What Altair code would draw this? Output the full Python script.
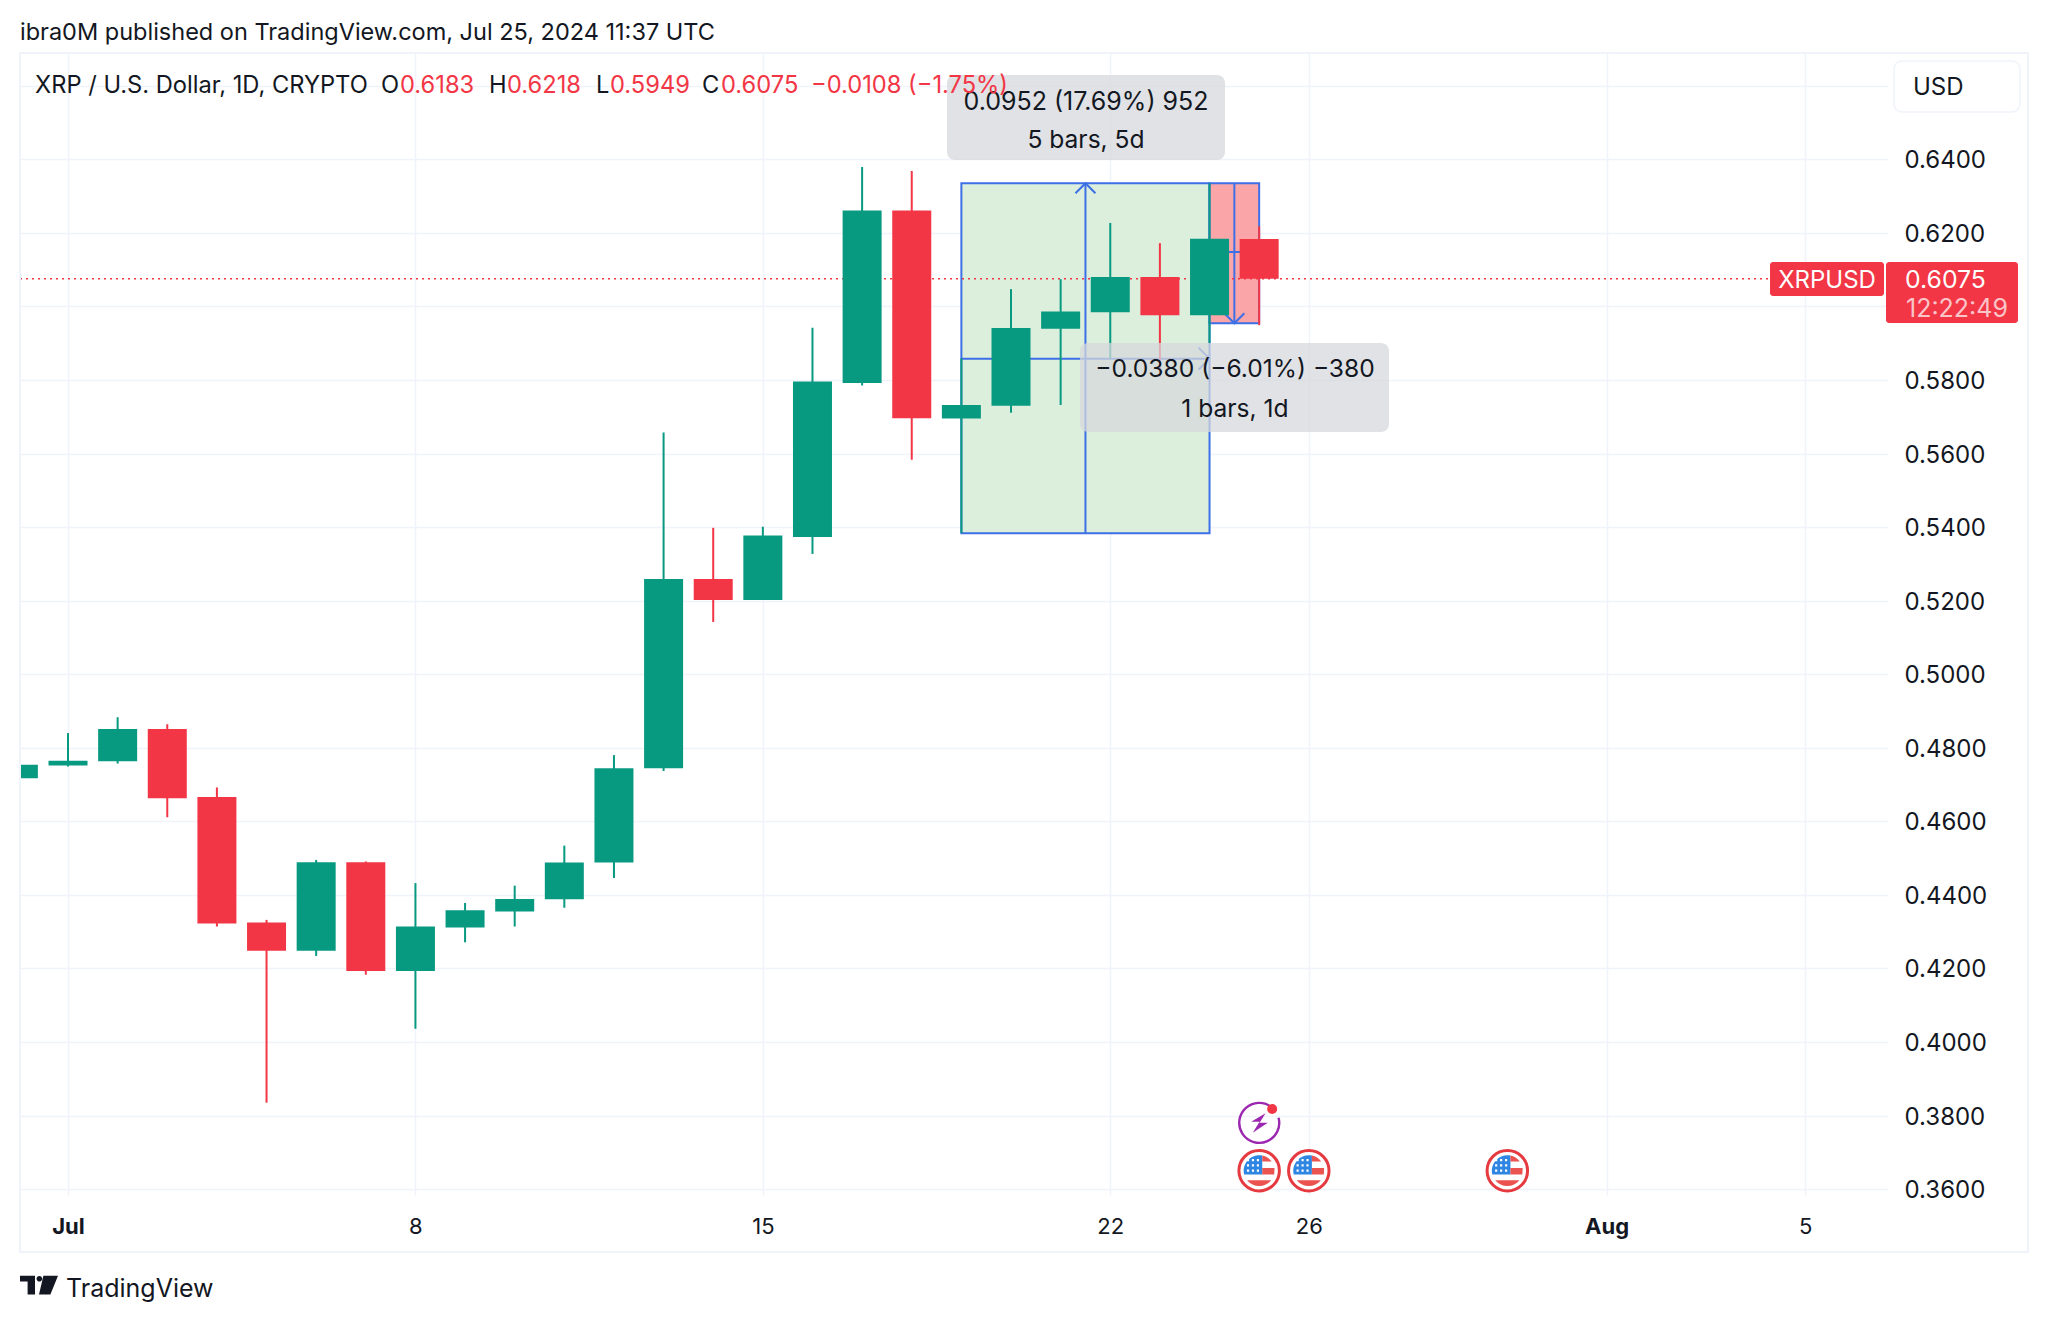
import altair as alt

# ---- data ----
dates = ["2024-06-30","2024-07-01","2024-07-02","2024-07-03","2024-07-04","2024-07-05","2024-07-06",
         "2024-07-07","2024-07-08","2024-07-09","2024-07-10","2024-07-11","2024-07-12","2024-07-13",
         "2024-07-14","2024-07-15","2024-07-16","2024-07-17","2024-07-18","2024-07-19","2024-07-20",
         "2024-07-21","2024-07-22","2024-07-23","2024-07-24","2024-07-25"]
opens  = [.4717,.4752,.4763,.4851,.4666,.4325,.4248,.4489,.4193,.4311,.4355,.4388,.4488,.4744,
          .5259,.5202,.5373,.5792,.6261,.5695,.5730,.5939,.5984,.6080,.5976,.6183]
highs  = [.4760,.4840,.4883,.4864,.4692,.4332,.4495,.4491,.4432,.4378,.4425,.4534,.4780,.5657,
          .5398,.5401,.5942,.6379,.6368,.5859,.6047,.6074,.6227,.6172,.6335,.6218]
lows   = [.4710,.4749,.4757,.4611,.4314,.3835,.4234,.4183,.4036,.4271,.4314,.4365,.4446,.4737,
          .5142,.5202,.5327,.5785,.5583,.5384,.5711,.5732,.5858,.5809,.5900,.5949]
closes = [.4754,.4765,.4851,.4663,.4322,.4248,.4489,.4193,.4314,.4358,.4389,.4488,.4744,.5259,
          .5202,.5377,.5796,.6261,.5696,.5732,.5941,.5986,.6080,.5976,.6184,.6075]

y_ticks = [.36,.38,.40,.42,.44,.46,.48,.50,.52,.54,.56,.58,.60,.62,.64,.66]
x_ticks = ["2024-07-01","2024-07-08","2024-07-15","2024-07-22","2024-07-26","2024-08-01","2024-08-05"]
flag_dates = ["2024-07-25","2024-07-26","2024-07-30"]
flash_dates = ["2024-07-25"]
last_price = 0.6075

GREEN, RED, BLUE, INK, GRID = "#089981", "#f23645", "#3d6fe6", "#131722", "#f0f3fa"
FONT = "Inter"
L, T, PW, PH = 20, 53, 1868, 1142

xscale = alt.Scale(type="utc", nice=False, padding=0, domain=[
    alt.DateTime(year=2024, month=6, date=30, hours=0, minutes=47, utc=True),
    alt.DateTime(year=2024, month=8, date=6, hours=16, minutes=5, utc=True)])
yscale = alt.Scale(domain=[0.3584, 0.6689], nice=False, zero=False, padding=0)
xaxis = alt.Axis(
    values=x_ticks, grid=True, gridColor=GRID, gridWidth=1.5, ticks=False, domain=False,
    labelFont=FONT, labelFontSize=22, labelColor=INK, labelPadding=21, labelAngle=0, labelFlush=False,
    labelOverlap=False,
    labelExpr="utcdate(datum.value)==1 ? utcFormat(datum.value,'%b') : utcFormat(datum.value,'%-d')",
    labelFontWeight={"condition": {"test": "utcdate(datum.value)==1", "value": "bold"}, "value": "normal"})
yaxis = alt.Axis(
    orient="right", values=y_ticks, grid=True, gridColor=GRID, gridWidth=1.5, ticks=False, domain=False,
    labelFont=FONT, labelFontSize=24, labelColor=INK, labelPadding=16, labelBound=False, labelFlush=False,
    labelOverlap=False, labelOffset=1.5,
    labelExpr="datum.value>0.65 || abs(datum.value-0.6)<0.001 ? '' : format(datum.value,'.4f')")
X = lambda f="d": alt.X(f"{f}:T", scale=xscale, axis=xaxis, title=None)
Y = lambda f="v": alt.Y(f"{f}:Q", scale=yscale, axis=yaxis, title=None)
px = lambda v: alt.value(v - L)
py = lambda v: alt.value(v - T)


def vals(**kw):
    return alt.Data(values=[kw])


def text(t, x, y, size=24, color=INK, align="left", weight="normal", opacity=1):
    return alt.Chart(vals(t=t)).mark_text(font=FONT, fontSize=size, color=color, align=align,
                                          baseline="middle", fontWeight=weight, opacity=opacity
                                          ).encode(x=px(x), y=py(y + 1.5), text="t:N")


def box(x0, x1, y0, y1, **mk):
    return alt.Chart(vals(a=1)).mark_rect(**mk).encode(x=px(x0), x2=px(x1), y=py(y0), y2=py(y1))


base = alt.Chart(alt.Data(values=[dict(d="2024-07-19", d2="2024-07-24", v=.5383, v2=.6335)])).mark_rect(
    fill="#dcefdc", stroke=BLUE, strokeWidth=2).encode(x=X(), x2="d2:T", y=Y(), y2="v2:Q")

red_box = alt.Chart(alt.Data(values=[dict(d="2024-07-24", d2="2024-07-25", v=.5954, v2=.6335)])).mark_rect(
    fill="#faa6a9", stroke=BLUE, strokeWidth=2).encode(x=X(), x2="d2:T", y=Y(), y2="v2:Q")


def hline(d0, d1, v):
    return alt.Chart(alt.Data(values=[dict(d=d0, d2=d1, v=v)])).mark_rule(color=BLUE, strokeWidth=2).encode(
        x=X(), x2="d2:T", y=Y())


def vline(d, v0, v1):
    return alt.Chart(alt.Data(values=[dict(d=d, v=v0, v2=v1)])).mark_rule(color=BLUE, strokeWidth=2).encode(
        x=X(), y=Y(), y2="v2:Q")


def head(d, v, path, size):
    return alt.Chart(alt.Data(values=[dict(d=d, v=v)])).mark_point(
        shape=path, size=size, filled=False, stroke=BLUE, strokeWidth=2, opacity=1).encode(x=X(), y=Y())


UP, DOWN, RIGHT = "M-1,1L0,0L1,1", "M-1,-1L0,0L1,-1", "M-1,-1L0,0L-1,1"
arrows = [
    hline("2024-07-19", "2024-07-24", .5858), head("2024-07-24", .5858, RIGHT, 484),
    vline("2024-07-21T12:00:00Z", .5383, .6335), head("2024-07-21T12:00:00Z", .6335, UP, 400),
    hline("2024-07-24", "2024-07-25", .6148),
    vline("2024-07-24T12:00:00Z", .5954, .6335), head("2024-07-24T12:00:00Z", .5954, DOWN, 400),
]

price_line = alt.Chart(vals(v=last_price)).mark_rule(color=RED, strokeWidth=1.5, strokeDash=[2, 4]).encode(y=Y())

candles = alt.Data(values=[dict(d=d, o=o, h=h, l=l, c=c, up=c >= o)
                           for d, o, h, l, c in zip(dates, opens, highs, lows, closes)])
colour = alt.condition("datum.up", alt.value(GREEN), alt.value(RED))
wicks = alt.Chart(candles).mark_rule(strokeWidth=2, clip=True).encode(
    x=X(), y=Y("l"), y2="h:Q", color=colour)
bodies = alt.Chart(candles).mark_bar(size=39, clip=True).encode(
    x=X(), y=Y("o"), y2="c:Q", color=colour)

# legend strip
legend = [("XRP / U.S. Dollar, 1D, CRYPTO", 35, INK), ("O", 381, INK), ("0.6183", 400, RED), ("H", 489, INK),
          ("0.6218", 507, RED), ("L", 596, INK), ("0.5949", 610, RED), ("C", 702, INK), ("0.6075", 721, RED),
          ("\u22120.0108 (\u22121.75%)", 811, RED)]
legend_layers = [text(t, x, 84, size=23.7, color=c) for t, x, c in legend]

# measure tool labels
LABEL = dict(fill="#d6d8dc", opacity=0.75, cornerRadius=8)
labels = [
    box(947, 1225, 75, 160, **LABEL),
    text("0.0952 (17.69%) 952", 1086, 100, size=25, align="center"),
    text("5 bars, 5d", 1086, 139, size=24.6, align="center"),
    box(1080, 1389, 343, 432, **LABEL),
    text("\u22120.0380 (\u22126.01%) \u2212380", 1235, 368, size=24.6, align="center"),
    text("1 bars, 1d", 1235, 408, size=24.6, align="center"),
]

# price scale chrome
chrome = [
    box(20, 2028, 53, 1252, fill="transparent", stroke=GRID, strokeWidth=2),
    box(1894, 2020, 61, 112, fill="white", stroke=GRID, strokeWidth=1.5, cornerRadius=8),
    text("USD", 1913, 86, size=24),
    box(1770, 1884, 262, 296, fill=RED, cornerRadius=3),
    text("XRPUSD", 1827, 279, size=24, color="white", align="center"),
    box(1886, 2018, 262, 323, fill=RED, cornerRadius=3),
    text("0.6075", 1905, 279, size=24.8, color="white"),
    text("12:22:49", 1906, 307, size=25, color="#fbc4c9"),
]

# event icons
CANTON = "M-0.97,0.24A1,1 0 0 1 0.2,-0.98L0.2,0.24Z"
STRIPES = ("M0.2,-0.98A1,1 0 0 1 0.8,-0.6L0.2,-0.6Z M0.2,-0.18L0.99,-0.18L0.97,0.24L0.2,0.24Z "
           "M-0.78,0.62A1,1 0 0 0 0.78,0.62Z")
STARS = " ".join(f"M{x-.07},{y-.07}h.14v.14h-.14Z" for x in (-.72, -.4, -.08) for y in (-.68, -.34, 0))
flag_data = alt.Data(values=[dict(d=d) for d in flag_dates])
FLAG_Y = 1170.7


def flag_layer(shape, size, **mk):
    return alt.Chart(flag_data).mark_point(shape=shape, size=size, opacity=1, **mk).encode(x=X(), y=py(FLAG_Y))


flags = [
    flag_layer("circle", 1640, fill="white", stroke="#e53a40", strokeWidth=3, filled=True),
    flag_layer(CANTON, 961, fill="#2f86e2", filled=True, strokeWidth=0),
    flag_layer(STRIPES, 961, fill="#ea5350", filled=True, strokeWidth=0),
    flag_layer(STARS, 961, fill="white", filled=True, strokeWidth=0),
]
flash_data = alt.Data(values=[dict(d=d) for d in flash_dates])
FLASH_Y = 1122.7
flash = [
    alt.Chart(flash_data).mark_point(shape="M0.62,-0.78A1,1 0 1 0 0.97,-0.25", size=1600, filled=False,
                                     stroke="#9c27b0", strokeWidth=2.4, opacity=1).encode(x=X(), y=py(FLASH_Y)),
    alt.Chart(flash_data).mark_point(shape="M0.32,-0.47L-0.4,-0.05L0.02,-0.05L-0.32,0.5L0.43,0L0.02,0Z", size=1600,
                                     filled=True, fill="#9c27b0", strokeWidth=0, opacity=1).encode(x=X(), y=py(FLASH_Y)),
    alt.Chart(flash_data).mark_point(shape="circle", size=100, filled=True, fill=RED, strokeWidth=0, opacity=1
                                     ).encode(x=X(), xOffset=alt.value(13), y=py(1109)),
]

# header / footer
LOGO = ("M-1,-0.49L-0.21,-0.49L-0.21,0.5L-0.6,0.5L-0.6,-0.19L-1,-0.19Z "
        "M-0.13,-0.33A0.15,0.15 0 1 0 0.17,-0.33A0.15,0.15 0 1 0 -0.13,-0.33Z "
        "M0.23,-0.49L1,-0.49L0.6,0.5L0,0.5Z")
logo = alt.Chart(vals(a=1)).mark_point(shape=LOGO, size=1444, filled=True, fill=INK, strokeWidth=0, opacity=1
                                       ).encode(x=px(39), y=py(1285))
header = text("ibra0M published on TradingView.com, Jul 25, 2024 11:37 UTC", 20, 31, size=23.5)
footer = text("TradingView", 66, 1287, size=25)

chart = alt.layer(
    base, red_box, *arrows, price_line, wicks, bodies, *labels, *legend_layers, *chrome, *flags, *flash,
    logo, header, footer
).properties(
    width=PW, height=PH, autosize="none",
    padding={"left": 12, "top": 45, "right": 152, "bottom": 118},
    background="white",
).configure_view(stroke=None)

chart.save("out.html", embed_options={"renderer": "svg", "actions": False})
